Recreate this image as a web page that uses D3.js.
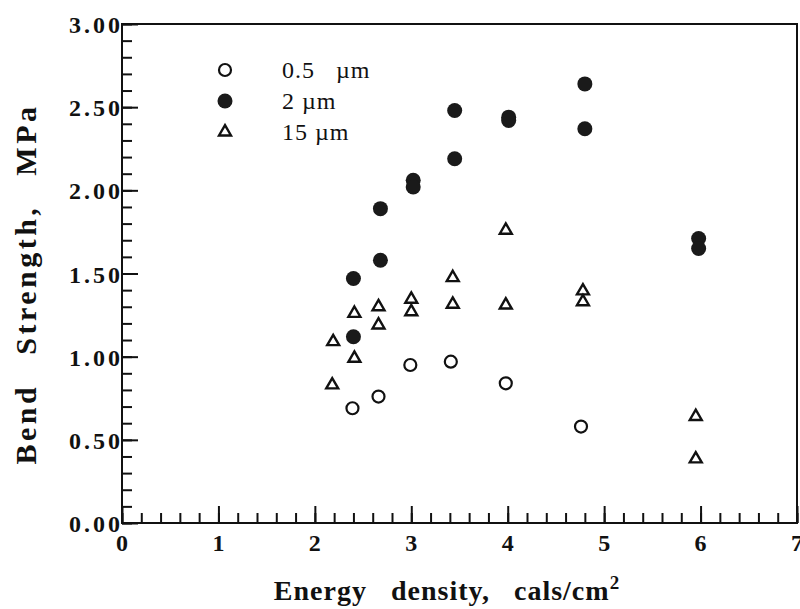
<!DOCTYPE html>
<html>
<head>
<meta charset="utf-8">
<script src="https://cdn.jsdelivr.net/npm/d3@7"></script>
<style>
  body { margin: 0; background: #fff; }
  text { font-family: "Liberation Serif", "Times New Roman", serif; fill: #111; }
</style>
</head>
<body>
<div id="chart"></div>
<script>
// Data
const xTicks = [0, 1, 2, 3, 4, 5, 6, 7];
const yTicks = [0, 0.5, 1, 1.5, 2, 2.5, 3];

const sizes = ['0.5', '2', '15'];

// 0.5 um (open circles)
const fineX = [2.39, 2.66, 2.99, 3.41, 3.98, 4.76];
const fineY = [0.69, 0.76, 0.95, 0.97, 0.84, 0.58];

// 2 um (filled circles)
const midX = [2.40, 2.40, 2.68, 2.68, 3.02, 3.02, 3.45, 3.45, 4.01, 4.01, 4.80, 4.80, 5.98, 5.98];
const midY = [1.47, 1.12, 1.89, 1.58, 2.06, 2.02, 2.48, 2.19, 2.44, 2.42, 2.64, 2.37, 1.71, 1.65];

// 15 um (open triangles)
const coarseX = [2.19, 2.18, 2.41, 2.41, 2.66, 2.66, 3.00, 3.00, 3.43, 3.43, 3.98, 3.98, 4.78, 4.78, 5.95, 5.95];
const coarseY = [1.09, 0.83, 1.26, 0.99, 1.30, 1.19, 1.345, 1.27, 1.475, 1.315, 1.76, 1.31, 1.395, 1.33, 0.64, 0.385];

const width = 800, height = 609;
const plotLeft = 122, plotRight = 797, plotTop = 24, plotBottom = 523;

const svg = d3.select('#chart').append('svg')
    .attr('width', width)
    .attr('height', height);

const x = d3.scaleLinear().domain([0, 7]).range([plotLeft, plotRight]);
const y = d3.scaleLinear().domain([0, 3]).range([plotBottom, plotTop]);

// frame
svg.append('rect')
    .attr('x', plotLeft).attr('y', plotTop)
    .attr('width', plotRight - plotLeft).attr('height', plotBottom - plotTop)
    .attr('fill', 'none').attr('stroke', '#111').attr('stroke-width', 2);

// inward ticks, majors longer
const xAxis = svg.append('g').attr('transform', `translate(0,${plotBottom})`);
xAxis.call(d3.axisTop(x).tickValues(d3.range(0, 7.01, 0.2)).tickSize(10).tickFormat(''));
xAxis.append('g').call(d3.axisTop(x).tickValues(xTicks).tickSize(17).tickFormat(''));
xAxis.selectAll('.domain').remove();
xAxis.selectAll('line').attr('stroke', '#111').attr('stroke-width', 2);

const yAxis = svg.append('g').attr('transform', `translate(${plotLeft},0)`);
yAxis.call(d3.axisRight(y).tickValues(d3.range(0, 3.001, 0.1)).tickSize(10).tickFormat(''));
yAxis.append('g').call(d3.axisRight(y).tickValues(yTicks).tickSize(16).tickFormat(''));
yAxis.selectAll('.domain').remove();
yAxis.selectAll('line').attr('stroke', '#111').attr('stroke-width', 2);

// tick labels
svg.append('g').selectAll('text')
    .data(xTicks)
    .join('text')
    .attr('x', d => x(d))
    .attr('y', 551)
    .attr('text-anchor', 'middle')
    .attr('font-size', 24)
    .attr('font-weight', 'bold')
    .text(d => d);

svg.append('g').selectAll('text')
    .data(yTicks)
    .join('text')
    .attr('x', plotLeft + 1)
    .attr('y', d => y(d) + 9)
    .attr('text-anchor', 'end')
    .attr('font-size', 24)
    .attr('font-weight', 'bold')
    .attr('letter-spacing', 3)
    .text(d => d3.format('.2f')(d));

// axis titles
const xTitle = svg.append('text')
    .attr('x', 447)
    .attr('y', 600)
    .attr('text-anchor', 'middle')
    .attr('font-size', 28)
    .attr('font-weight', 'bold')
    .attr('letter-spacing', 1)
    .attr('word-spacing', 16);
xTitle.append('tspan').text('Energy density, cals/cm');
xTitle.append('tspan').attr('dy', -11).attr('font-size', 19).text('2');

svg.append('text')
    .attr('transform', 'translate(36,284) rotate(-90)')
    .attr('text-anchor', 'middle')
    .attr('font-size', 30)
    .attr('font-weight', 'bold')
    .attr('letter-spacing', 3.5)
    .attr('word-spacing', 18)
    .text('Bend Strength, MPa');

// markers
const tri = d3.symbol().type(d3.symbolTriangle).size(62);
const plot = svg.append('g');

plot.selectAll('.fine')
    .data(fineX.map((v, i) => [v, fineY[i]]))
    .join('circle')
    .attr('class', 'fine')
    .attr('cx', d => x(d[0])).attr('cy', d => y(d[1]))
    .attr('r', 6)
    .attr('fill', 'none').attr('stroke', '#111').attr('stroke-width', 2.2);

plot.selectAll('.mid')
    .data(midX.map((v, i) => [v, midY[i]]))
    .join('circle')
    .attr('class', 'mid')
    .attr('cx', d => x(d[0])).attr('cy', d => y(d[1]))
    .attr('r', 7.5)
    .attr('fill', '#1a1a1a');

plot.selectAll('.coarse')
    .data(coarseX.map((v, i) => [v, coarseY[i]]))
    .join('path')
    .attr('class', 'coarse')
    .attr('transform', d => `translate(${x(d[0])},${y(d[1])})`)
    .attr('d', tri)
    .attr('fill', 'none').attr('stroke', '#111').attr('stroke-width', 2.4);

// legend
const rows = [70, 101, 132];
const legend = svg.append('g');
legend.append('circle').attr('cx', 225).attr('cy', rows[0]).attr('r', 6)
    .attr('fill', 'none').attr('stroke', '#111').attr('stroke-width', 2.2);
legend.append('circle').attr('cx', 225).attr('cy', rows[1]).attr('r', 7.5)
    .attr('fill', '#1a1a1a');
legend.append('path').attr('transform', `translate(225,${rows[2]})`).attr('d', tri)
    .attr('fill', 'none').attr('stroke', '#111').attr('stroke-width', 2.4);

legend.selectAll('text')
    .data(sizes)
    .join('text')
    .attr('x', 282)
    .attr('y', (d, i) => rows[i] + 8)
    .attr('font-size', 24)
    .attr('letter-spacing', 1)
    .style('white-space', 'pre')
    .text((d, i) => d + (i === 0 ? '   ' : ' ') + 'µm');
</script>
</body>
</html>
